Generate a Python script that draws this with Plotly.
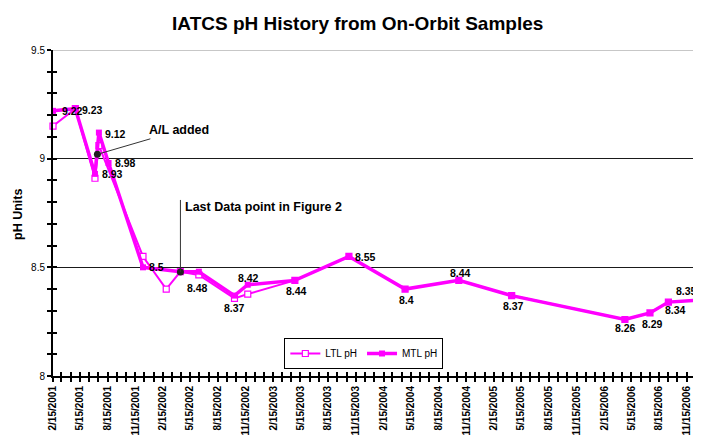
import plotly.graph_objects as go
import pandas as pd

title_text = "IATCS pH History from On-Orbit Samples"
y_title = "pH Units"

ltl_name = "LTL pH"
ltl_dates = ["2001-02-15", "2001-04-30", "2001-07-04", "2001-07-17", "2001-12-10",
             "2002-02-25", "2002-04-13", "2002-06-13", "2002-10-09", "2002-11-22",
             "2003-04-27", "2003-10-23", "2004-04-26", "2004-10-21", "2005-04-14",
             "2006-04-24", "2006-07-16", "2006-09-15", "2007-01-01"]
ltl_ph = [9.15, 9.23, 8.91, 9.06, 8.55, 8.40, 8.48, 8.465, 8.357, 8.377,
          8.44, 8.55, 8.40, 8.44, 8.37, 8.26, 8.29, 8.34, 8.35]

mtl_name = "MTL pH"
mtl_dates = ["2001-02-15", "2001-04-30", "2001-07-04", "2001-07-17", "2001-08-18",
             "2001-12-10", "2002-04-13", "2002-06-13", "2002-10-09", "2002-11-22",
             "2003-04-27", "2003-10-23", "2004-04-26", "2004-10-21", "2005-04-14",
             "2006-04-24", "2006-07-16", "2006-09-15", "2007-01-01"]
mtl_ph = [9.22, 9.23, 8.93, 9.12, 8.98, 8.50, 8.48, 8.48, 8.37, 8.42,
          8.44, 8.55, 8.40, 8.44, 8.37, 8.26, 8.29, 8.34, 8.35]

# data labels (index into MTL series) and their pixel offsets (dx right, dy down)
label_idx = [0, 1, 2, 3, 4, 5, 7, 8, 9, 10, 11, 12, 13, 14, 15, 16, 17, 18]
label_dx = [19, 17, 18, 17, 17, 14, -1, 0, 1, 2, 17, 1, 2, 2, 1, 3, 7, -15]
label_dy = [0, 1, 0, 1, 0, 0, 16, 12, -7, 11, 1, 11, -7, 10, 9, 11, 8, -9]

# callout notes
note_text = ["A/L added", "Last Data point in Figure 2"]
note_dates = ["2001-07-12", "2002-04-13"]
note_ph = [9.02, 8.478]

x_tick_labels = ["2/15/2001", "5/15/2001", "8/15/2001", "11/15/2001",
                 "2/15/2002", "5/15/2002", "8/15/2002", "11/15/2002",
                 "2/15/2003", "5/15/2003", "8/15/2003", "11/15/2003",
                 "2/15/2004", "5/15/2004", "8/15/2004", "11/15/2004",
                 "2/15/2005", "5/15/2005", "8/15/2005", "11/15/2005",
                 "2/15/2006", "5/15/2006", "8/15/2006", "11/15/2006"]
x_tick_vals = [pd.to_datetime(s, format="%m/%d/%Y").strftime("%Y-%m-%d") for s in x_tick_labels]

x_range = ["2001-02-15", "2007-01-01"]
y_range = [8, 9.5]

FONT = "Liberation Sans, Arial, sans-serif"
MAG = "#FF00FF"

fig = go.Figure()

fig.add_trace(go.Scatter(
    x=ltl_dates, y=ltl_ph, name=ltl_name, mode="lines+markers",
    line=dict(color=MAG, width=2),
    marker=dict(symbol="square", size=6, color="white", line=dict(color=MAG, width=1.2)),
    cliponaxis=False,
))
fig.add_trace(go.Scatter(
    x=mtl_dates, y=mtl_ph, name=mtl_name, mode="lines+markers",
    line=dict(color=MAG, width=3.5),
    marker=dict(symbol="square", size=6, color=MAG),
    cliponaxis=True,
))
fig.add_trace(go.Scatter(
    x=note_dates, y=note_ph, mode="markers", showlegend=False,
    marker=dict(symbol="circle", size=7, color="#202020"), hoverinfo="skip",
))
# invisible trace to activate overlay axes (crossing ticks)
fig.add_trace(go.Scatter(
    x=[x_range[0]], y=[8.5], xaxis="x2", yaxis="y2", mode="markers",
    marker=dict(opacity=0), showlegend=False, hoverinfo="skip",
))

annotations = []
for i, dx, dy in zip(label_idx, label_dx, label_dy):
    annotations.append(dict(
        x=mtl_dates[i], y=mtl_ph[i], xref="x", yref="y", text=f"{mtl_ph[i]:.2f}".rstrip("0"),
        showarrow=False, xshift=dx, yshift=-dy, xanchor="center",
        font=dict(family=FONT, size=10.5, color="black", weight="bold"),
    ))

annotations.append(dict(
    x=note_dates[0], y=note_ph[0], xref="x", yref="y", text=note_text[0],
    showarrow=True, arrowhead=0, arrowwidth=1, arrowcolor="#333333",
    ax=82, ay=-24, standoff=2,
    font=dict(family=FONT, size=12.5, color="black", weight="bold"),
))
annotations.append(dict(
    x=note_dates[1], y=8.779, xref="x", yref="y", text=note_text[1],
    showarrow=False, xanchor="left", xshift=3,
    font=dict(family=FONT, size=12.5, color="black", weight="bold"),
))
annotations.append(dict(
    x=-0.054, y=0.494, xref="paper", yref="paper", text=y_title, textangle=-90,
    xanchor="center", yanchor="middle",
    showarrow=False, font=dict(family=FONT, size=12.5, color="black", weight="bold"),
))

shapes = [
    dict(type="line", xref="x", yref="y", x0=note_dates[1], x1=note_dates[1],
         y0=note_ph[1], y1=8.81, line=dict(color="#333333", width=1)),
    dict(type="line", xref="paper", yref="y", x0=0, x1=1, y0=9.5, y1=9.5,
         line=dict(color="#909090", width=1), layer="below"),
]

# page body has an 8px margin, so the figure is sized/offset to compensate
fig.update_layout(
    width=693, height=428,
    margin=dict(l=45, r=0, t=42, b=60, autoexpand=False),
    paper_bgcolor="white", plot_bgcolor="white",
    title=dict(text=title_text, x=0.5046, xanchor="center", y=0.965, yanchor="middle",
               font=dict(family=FONT, size=19, color="black", weight="bold")),
    font=dict(family=FONT, color="black"),
    showlegend=True,
    legend=dict(orientation="h", x=0.357, y=0.1166, xanchor="left", yanchor="top",
                bgcolor="white", bordercolor="black", borderwidth=1,
                font=dict(family=FONT, size=10, color="black"),
                itemwidth=30, tracegroupgap=0, itemclick=False),
    xaxis=dict(
        type="date", range=x_range, tickmode="array", tickvals=x_tick_vals,
        ticktext=x_tick_labels, tickangle=-90,
        tickfont=dict(family=FONT, size=10, color="black", weight="bold"),
        ticks="outside", ticklen=4, tickwidth=1.5, tickcolor="black",
        minor=dict(dtick="M1", tick0="2001-02-15", ticks="outside", ticklen=4,
                   tickwidth=1.5, tickcolor="black", showgrid=False),
        showline=True, linecolor="black", linewidth=2, automargin=False,
        showgrid=False, zeroline=False, fixedrange=True,
    ),
    yaxis=dict(
        range=y_range, dtick=0.5, tick0=8,
        tickfont=dict(family=FONT, size=10, color="black"),
        ticks="outside", ticklen=4, tickwidth=1.5, tickcolor="black",
        minor=dict(dtick=0.1, tick0=8, ticks="outside", ticklen=4,
                   tickwidth=1.5, tickcolor="black", showgrid=False),
        showline=True, linecolor="black", linewidth=2, automargin=False,
        showgrid=True, gridcolor="#1a1a1a", gridwidth=1, zeroline=False, fixedrange=True,
    ),
    xaxis2=dict(
        type="date", range=x_range, overlaying="x", anchor="y", side="bottom",
        tickmode="array", tickvals=x_tick_vals, showticklabels=False,
        ticks="inside", ticklen=4, tickwidth=1.5, tickcolor="black",
        minor=dict(dtick="M1", tick0="2001-02-15", ticks="inside", ticklen=4,
                   tickwidth=1.5, tickcolor="black", showgrid=False),
        showline=False, showgrid=False, zeroline=False, fixedrange=True,
    ),
    yaxis2=dict(
        range=y_range, dtick=0.5, tick0=8, overlaying="y", anchor="x", side="left",
        showticklabels=False,
        ticks="inside", ticklen=4, tickwidth=1.5, tickcolor="black",
        minor=dict(dtick=0.1, tick0=8, ticks="inside", ticklen=4,
                   tickwidth=1.5, tickcolor="black", showgrid=False),
        showline=False, showgrid=False, zeroline=False, fixedrange=True,
    ),
    annotations=annotations,
    shapes=shapes,
)

fig.write_html("out.html")
